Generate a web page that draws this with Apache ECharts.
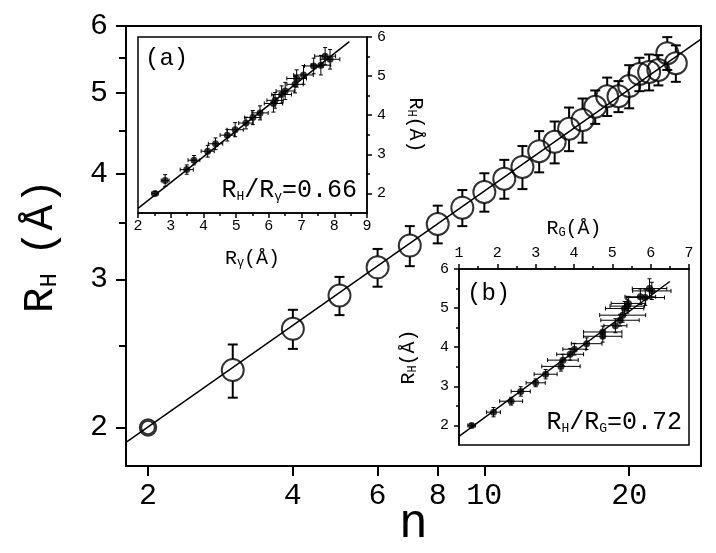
<!DOCTYPE html>
<html>
<head>
<meta charset="utf-8">
<script src="https://cdn.jsdelivr.net/npm/echarts@6/dist/echarts.min.js"></script>
<style>html,body{margin:0;padding:0;background:#fff}#main{width:716px;height:553px}</style>
</head>
<body>
<div id="main"></div>
<script>
// main panel: R_H against n, log-log
var nVals = [2,3,4,5,6,7,8,9,10,11,12,13,14,15,16,17,18,19,20,21,22,23,24,25];
var rhMain = [2.00,2.34,2.62,2.87,3.10,3.29,3.49,3.65,3.81,3.95,4.08,4.26,4.37,4.53,4.64,4.81,4.95,4.95,5.09,5.26,5.29,5.32,5.57,5.42];
var rhMainErr = [0,0.17,0.14,0.15,0.16,0.18,0.18,0.18,0.20,0.21,0.24,0.24,0.25,0.27,0.28,0.22,0.26,0.21,0.30,0.24,0.26,0.22,0.25,0.27];
var nTicks = [2,4,6,8,10,20];
var rhTicks = [2,3,4,5,6];
var rhMinorTicks = [2.5,3.5,4.5,5.5];
var nRange = [1.8, 28.2];
var rhRange = [1.8, 6];
var fitN = [1.8, 28.2];
var fitRH = [1.92, 5.79];

// inset (a): R_H against R_gamma
var rgA = [2.52,2.83,3.49,3.71,4.13,4.37,4.73,4.97,5.30,5.51,5.73,6.14,6.19,6.39,6.50,6.80,6.85,7.06,7.37,7.59,7.72,7.87];
var rhA = [2.00,2.33,2.61,2.85,3.08,3.27,3.49,3.63,3.80,3.94,4.06,4.30,4.38,4.53,4.62,4.79,4.94,5.03,5.26,5.28,5.51,5.43];
var rgAErr = [0.10,0.12,0.20,0.18,0.20,0.22,0.22,0.25,0.22,0.25,0.25,0.28,0.25,0.30,0.28,0.25,0.30,0.30,0.28,0.30,0.32,0.30];
var rhAErr = [0.05,0.15,0.12,0.12,0.15,0.15,0.15,0.18,0.15,0.18,0.18,0.22,0.20,0.22,0.22,0.22,0.22,0.24,0.20,0.25,0.22,0.25];
var fitAx = [2, 8.46];
var fitAy = [1.62, 5.88];

// inset (b): R_H against R_G
var rgB = [1.33,1.90,2.36,2.61,3.00,3.26,3.66,3.71,3.90,4.01,4.33,4.75,4.75,5.08,5.20,5.27,5.32,5.39,5.42,5.73,5.86,5.97,6.03];
var rhB = [2.00,2.34,2.62,2.87,3.09,3.31,3.51,3.67,3.82,3.95,4.09,4.28,4.39,4.55,4.69,4.82,4.99,5.05,5.12,5.29,5.27,5.50,5.44];
var rgBErr = [0.10,0.18,0.30,0.25,0.25,0.30,0.50,0.40,0.35,0.30,0.40,0.50,0.50,0.30,0.50,0.60,0.50,0.45,0.45,0.40,0.50,0.45,0.50];
var rhBErr = [0.04,0.12,0.10,0.12,0.10,0.12,0.12,0.15,0.15,0.15,0.15,0.15,0.15,0.18,0.15,0.18,0.18,0.18,0.18,0.20,0.20,0.25,0.22];
var fitBx = [1, 6.5];
var fitBy = [1.72, 5.68];

var insetTicks = [2,3,4,5,6];
var insetMinor = [2.5,3.5,4.5,5.5];

var FONT = 'Liberation Mono';
var lg = Math.log10;
var chart = echarts.init(document.getElementById('main'));

function fromLog(v) { return String(Math.round(Math.pow(10, v))); }

// error bar on the main panel: stops at the circle edge
function mainErr(params, api) {
    var x = api.value(0), y = api.value(1), lo = api.value(2), hi = api.value(3);
    if (!(hi > y)) return {type: 'group', children: []};
    var c = api.coord([x, y]), t = api.coord([x, hi]), b = api.coord([x, lo]);
    var r = 11, w = 5;
    var st = {stroke: '#000', lineWidth: 2};
    return {type: 'group', children: [
        {type: 'line', shape: {x1: c[0], y1: c[1] - r, x2: c[0], y2: t[1]}, style: st},
        {type: 'line', shape: {x1: c[0] - w, y1: t[1], x2: c[0] + w, y2: t[1]}, style: st},
        {type: 'line', shape: {x1: c[0], y1: c[1] + r, x2: c[0], y2: b[1]}, style: st},
        {type: 'line', shape: {x1: c[0] - w, y1: b[1], x2: c[0] + w, y2: b[1]}, style: st}
    ]};
}

// x and y error bars for the insets
function xyErr(params, api) {
    var x = api.value(0), y = api.value(1), ex = api.value(2), ey = api.value(3);
    var c = api.coord([x, y]);
    var l = api.coord([x - ex, y]), r = api.coord([x + ex, y]);
    var t = api.coord([x, y + ey]), b = api.coord([x, y - ey]);
    var k = 2;
    var st = {stroke: '#000', lineWidth: 1};
    return {type: 'group', children: [
        {type: 'line', shape: {x1: l[0], y1: c[1], x2: r[0], y2: c[1]}, style: st},
        {type: 'line', shape: {x1: l[0], y1: c[1] - k, x2: l[0], y2: c[1] + k}, style: st},
        {type: 'line', shape: {x1: r[0], y1: c[1] - k, x2: r[0], y2: c[1] + k}, style: st},
        {type: 'line', shape: {x1: c[0], y1: t[1], x2: c[0], y2: b[1]}, style: st},
        {type: 'line', shape: {x1: c[0] - k, y1: t[1], x2: c[0] + k, y2: t[1]}, style: st},
        {type: 'line', shape: {x1: c[0] - k, y1: b[1], x2: c[0] + k, y2: b[1]}, style: st}
    ]};
}

function pairs(xs, ys) { return xs.map(function (v, i) { return [v, ys[i]]; }); }

var mainPts = nVals.map(function (n, i) {
    var p = {value: [lg(n), lg(rhMain[i])]};
    // the n=2 marker is drawn smaller and heavier in the source
    if (i === 0) p.itemStyle = {borderWidth: 3.5};
    return p;
});
var mainErrData = nVals.map(function (n, i) {
    var e = rhMainErr[i];
    return [lg(n), lg(rhMain[i]), lg(rhMain[i] - e), e > 0 ? lg(rhMain[i] + e) : lg(rhMain[i])];
});
var aErrData = rgA.map(function (v, i) { return [v, rhA[i], rgAErr[i], rhAErr[i]]; });
var bErrData = rgB.map(function (v, i) { return [v, rhB[i], rgBErr[i], rhBErr[i]]; });

var subRich = {
    r: {fontFamily: FONT, fontSize: 20, color: '#000'},
    s: {fontFamily: FONT, fontSize: 12, color: '#000', verticalAlign: 'bottom'}
};
var insetLabel = {fontFamily: FONT, fontSize: 15, color: '#000'};

var option = {
    backgroundColor: '#fff',
    animation: false,
    grid: [
        {left: 126, top: 26, width: 575, height: 440, show: true, borderColor: '#000', borderWidth: 2, backgroundColor: '#fff', outerBoundsMode: 'none'},
        {left: 138, top: 37, width: 229, height: 176, show: true, borderColor: '#000', borderWidth: 1.5, backgroundColor: '#fff', outerBoundsMode: 'none'},
        {left: 459, top: 269, width: 230, height: 176, show: true, borderColor: '#000', borderWidth: 1.5, backgroundColor: '#fff', outerBoundsMode: 'none'}
    ],
    xAxis: [
        {
            gridIndex: 0, type: 'value', min: lg(nRange[0]), max: lg(nRange[1]),
            name: 'n', nameLocation: 'middle', nameGap: 34, nameMoveOverlap: false,
            nameTextStyle: {fontFamily: FONT, fontSize: 48, color: '#000'},
            axisLine: {lineStyle: {color: '#000', width: 2}},
            axisTick: {customValues: nTicks.map(lg), length: 10, lineStyle: {color: '#000', width: 2}},
            axisLabel: {customValues: nTicks.map(lg), formatter: fromLog, margin: 15, fontFamily: FONT, fontSize: 30, color: '#000'},
            splitLine: {show: false}
        },
        {
            gridIndex: 1, type: 'value', min: 2, max: 9, interval: 1,
            name: '{r|R}{s|γ}{r|(Å)}', nameLocation: 'middle', nameGap: 36,
            nameTextStyle: {rich: subRich},
            axisLine: {lineStyle: {color: '#000', width: 1.5}},
            axisTick: {length: 5, lineStyle: {color: '#000', width: 1.5}},
            minorTick: {show: true, splitNumber: 2, length: 3, lineStyle: {color: '#000', width: 1.5}},
            axisLabel: Object.assign({margin: 6}, insetLabel),
            splitLine: {show: false}
        },
        {
            gridIndex: 2, type: 'value', position: 'top', min: 1, max: 7, interval: 1,
            name: '{r|R}{s|G}{r|(Å)}', nameLocation: 'middle', nameGap: 30,
            nameTextStyle: {rich: subRich},
            axisLine: {lineStyle: {color: '#000', width: 1.5}},
            axisTick: {length: 5, lineStyle: {color: '#000', width: 1.5}},
            minorTick: {show: true, splitNumber: 2, length: 3, lineStyle: {color: '#000', width: 1.5}},
            axisLabel: Object.assign({margin: 8}, insetLabel),
            splitLine: {show: false}
        }
    ],
    yAxis: [
        {
            gridIndex: 0, type: 'value', min: lg(rhRange[0]), max: lg(rhRange[1]),
            name: '{r|R}{s|H}{g| }{r|(Å)}', nameLocation: 'middle', nameGap: 64, nameRotate: 90, nameMoveOverlap: false,
            nameTextStyle: {rich: {
                r: {fontFamily: FONT, fontSize: 43, color: '#000'},
                s: {fontFamily: FONT, fontSize: 24, color: '#000', verticalAlign: 'bottom'},
                g: {fontFamily: FONT, fontSize: 28, color: '#000'}
            }},
            axisLine: {lineStyle: {color: '#000', width: 2}},
            axisTick: {customValues: rhTicks.map(lg), length: 10, lineStyle: {color: '#000', width: 2}},
            axisLabel: {show: false},
            splitLine: {show: false}
        },
        {
            gridIndex: 0, type: 'value', position: 'left', min: lg(rhRange[0]), max: lg(rhRange[1]),
            axisLine: {show: false},
            axisTick: {customValues: rhMinorTicks.map(lg), length: 7, lineStyle: {color: '#000', width: 2}},
            axisLabel: {show: false},
            splitLine: {show: false}
        },
        {
            gridIndex: 1, type: 'value', position: 'right', min: 1.5, max: 6,
            name: '{r|R}{s|H}{r|(Å)}', nameLocation: 'middle', nameGap: 38, nameRotate: -90,
            nameTextStyle: {rich: subRich},
            axisLine: {lineStyle: {color: '#000', width: 1.5}},
            axisTick: {customValues: insetTicks, length: 5, lineStyle: {color: '#000', width: 1.5}},
            axisLabel: Object.assign({customValues: insetTicks, margin: 10}, insetLabel),
            splitLine: {show: false}
        },
        {
            gridIndex: 1, type: 'value', position: 'right', min: 1.5, max: 6,
            axisLine: {show: false},
            axisTick: {customValues: insetMinor, length: 3, lineStyle: {color: '#000', width: 1.5}},
            axisLabel: {show: false},
            splitLine: {show: false}
        },
        {
            gridIndex: 2, type: 'value', position: 'left', min: 1.5, max: 6,
            name: '{r|R}{s|H}{r|(Å)}', nameLocation: 'middle', nameGap: 40, nameRotate: 90,
            nameTextStyle: {rich: subRich},
            axisLine: {lineStyle: {color: '#000', width: 1.5}},
            axisTick: {customValues: insetTicks, length: 5, lineStyle: {color: '#000', width: 1.5}},
            axisLabel: Object.assign({customValues: insetTicks, margin: 10}, insetLabel),
            splitLine: {show: false}
        },
        {
            gridIndex: 2, type: 'value', position: 'left', min: 1.5, max: 6,
            axisLine: {show: false},
            axisTick: {customValues: insetMinor, length: 3, lineStyle: {color: '#000', width: 1.5}},
            axisLabel: {show: false},
            splitLine: {show: false}
        }
    ],
    series: [
        {type: 'line', xAxisIndex: 0, yAxisIndex: 0, data: pairs(fitN.map(lg), fitRH.map(lg)),
         symbol: 'none', lineStyle: {color: '#000', width: 1.5}, silent: true},
        {type: 'custom', xAxisIndex: 0, yAxisIndex: 0, data: mainErrData, renderItem: mainErr, silent: true},
        {type: 'scatter', xAxisIndex: 0, yAxisIndex: 0, data: mainPts,
         symbol: 'circle',
         symbolSize: function (v, p) { return p.dataIndex === 0 ? 15 : 22; },
         itemStyle: {color: 'rgba(0,0,0,0)', borderColor: '#000', borderWidth: 2}, silent: true},

        {type: 'line', xAxisIndex: 1, yAxisIndex: 2, data: pairs(fitAx, fitAy),
         symbol: 'none', lineStyle: {color: '#000', width: 1.5}, silent: true},
        {type: 'custom', xAxisIndex: 1, yAxisIndex: 2, data: aErrData, renderItem: xyErr, silent: true},
        {type: 'scatter', xAxisIndex: 1, yAxisIndex: 2, data: pairs(rgA, rhA),
         symbolSize: 7, itemStyle: {color: '#000'}, silent: true},

        {type: 'line', xAxisIndex: 2, yAxisIndex: 4, data: pairs(fitBx, fitBy),
         symbol: 'none', lineStyle: {color: '#000', width: 1.5}, silent: true},
        {type: 'custom', xAxisIndex: 2, yAxisIndex: 4, data: bErrData, renderItem: xyErr, silent: true},
        {type: 'scatter', xAxisIndex: 2, yAxisIndex: 4, data: pairs(rgB, rhB),
         symbolSize: 7, itemStyle: {color: '#000'}, silent: true}
    ],
    graphic: [
        {type: 'text', left: 145, top: 47, z: 100,
         style: {text: '(a)', fontFamily: FONT, fontSize: 24, fill: '#000'}},
        {type: 'text', right: 716 - 357, top: 178, z: 100,
         style: {text: '{r|R}{s|H}{r|/R}{s|γ}{r|=0.66}', rich: {
             r: {fontFamily: FONT, fontSize: 25, fill: '#000'},
             s: {fontFamily: FONT, fontSize: 13, fill: '#000', verticalAlign: 'bottom'}}}},
        {type: 'text', left: 467, top: 282, z: 100,
         style: {text: '(b)', fontFamily: FONT, fontSize: 24, fill: '#000'}},
        {type: 'text', right: 716 - 682, top: 410, z: 100,
         style: {text: '{r|R}{s|H}{r|/R}{s|G}{r|=0.72}', rich: {
             r: {fontFamily: FONT, fontSize: 25, fill: '#000'},
             s: {fontFamily: FONT, fontSize: 13, fill: '#000', verticalAlign: 'bottom'}}}}
    ]
};

chart.setOption(option);

// main y tick labels, placed through the axis scale
var axisX = chart.convertToPixel({xAxisIndex: 0}, lg(nRange[0]));
var yLabels = rhTicks.map(function (v, i) {
    return {
        type: 'text', id: 'ylab' + i, z: 100,
        x: axisX - 18, y: chart.convertToPixel({yAxisIndex: 0}, lg(v)),
        style: {text: String(v), fontFamily: FONT, fontSize: 30, fill: '#000', align: 'right', verticalAlign: 'middle'}
    };
});
chart.setOption({graphic: option.graphic.concat(yLabels)});
</script>
</body>
</html>
